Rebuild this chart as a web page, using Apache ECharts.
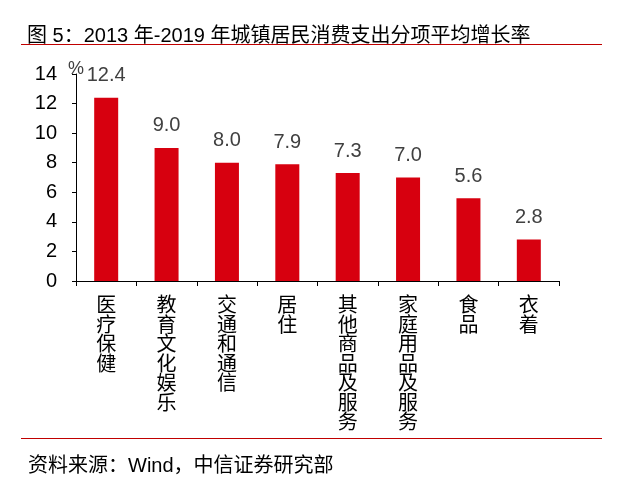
<!DOCTYPE html>
<html><head><meta charset="utf-8">
<script src="https://cdn.jsdelivr.net/npm/echarts@6/dist/echarts.min.js"></script>
<style>html,body{margin:0;padding:0;background:#fff}#c{width:632px;height:485px}</style>
</head><body><div id="c"></div>
<script>
var categories = ['医疗保健','教育文化娱乐','交通和通信','居住','其他商品及服务','家庭用品及服务','食品','衣着'];
var values = [12.4, 9.0, 8.0, 7.9, 7.3, 7.0, 5.6, 2.8];
var yTicks = [0, 2, 4, 6, 8, 10, 12, 14];
var chart = echarts.init(document.getElementById('c'));
chart.setOption({
  animation: false,
  backgroundColor: '#fff',
  title: [
    {text: '图 5：2013 年-2019 年城镇居民消费支出分项平均增长率', left: 22, top: 21,
     textStyle: {fontSize: 20, fontWeight: 'normal', color: '#000', fontFamily: 'Liberation Sans, Noto Sans CJK SC'}},
    {text: '资料来源：Wind，中信证券研究部', left: 23, top: 451,
     textStyle: {fontSize: 20, fontWeight: 'normal', color: '#000', fontFamily: 'Liberation Sans, Noto Sans CJK SC'}}
  ],
  graphic: [
    {type: 'line', shape: {x1: 21, y1: 44.5, x2: 602, y2: 44.5}, style: {stroke: '#C00000', lineWidth: 1.2}},
    {type: 'line', shape: {x1: 21, y1: 438.5, x2: 602, y2: 438.5}, style: {stroke: '#C00000', lineWidth: 1.2}},
    {type: 'text', left: 68, top: 60, style: {text: '%', fontSize: 18, fill: '#404040', fontFamily: 'Liberation Sans'}}
  ],
  grid: {left: 76, right: 73, top: 74, bottom: 204},
  xAxis: {
    type: 'category', data: categories,
    axisLine: {lineStyle: {color: '#000', width: 1}},
    axisTick: {show: true, length: 5, lineStyle: {color: '#000'}},
    axisLabel: {
      interval: 0, margin: 14, color: '#000', fontSize: 20, lineHeight: 19.5,
      fontFamily: 'Noto Sans CJK SC', verticalAlign: 'top',
      formatter: function (v) { return v.split('').join('\n'); }
    }
  },
  yAxis: {
    type: 'value', min: 0, max: 14, interval: 2,
    splitLine: {show: false},
    axisLine: {show: true, lineStyle: {color: '#000', width: 1}},
    axisTick: {show: true, length: 4, lineStyle: {color: '#000'}},
    axisLabel: {color: '#000', fontSize: 20, margin: 19, fontFamily: 'Liberation Sans',
      formatter: function (v) { return yTicks.indexOf(v) >= 0 ? String(v) : ''; }}
  },
  series: [{
    type: 'bar', data: values, barWidth: 24,
    itemStyle: {color: '#D7000F'},
    label: {show: true, position: 'top', distance: 12, color: '#404040', fontSize: 20,
      fontFamily: 'Liberation Sans', formatter: function (p) { return p.value.toFixed(1); }}
  }]
});
</script></body></html>
